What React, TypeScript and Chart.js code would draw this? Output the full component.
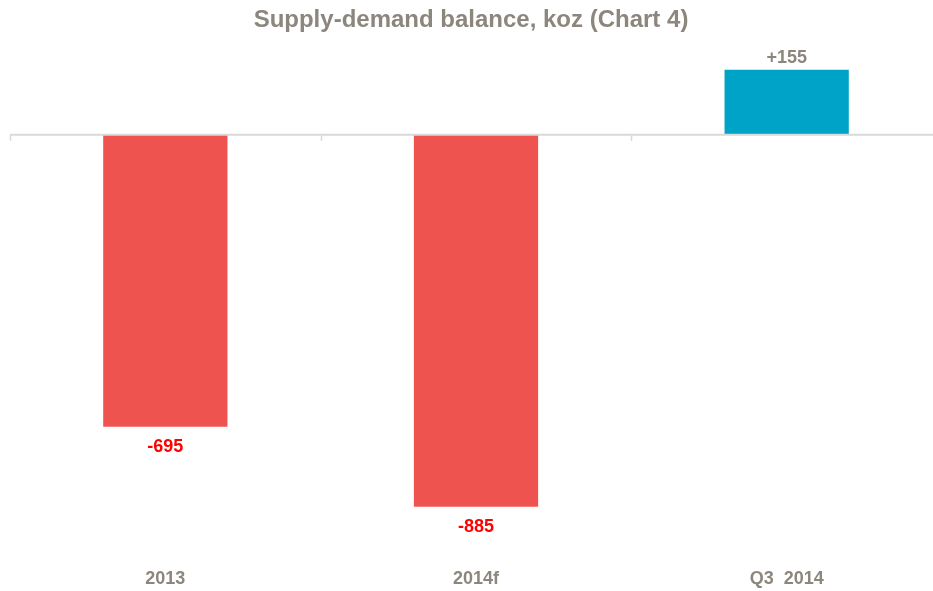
import React, { useEffect, useRef } from "react";
import { Chart, registerables } from "chart.js";

Chart.register(...registerables);

const categories = ["2013", "2014f", "Q3  2014"];
const balance = [-695, -885, 155];
const title = "Supply-demand balance, koz (Chart 4)";

const RED = "#EF534F";
const BLUE = "#00A3C8";
const GRAY = "#8C867C";
const LABEL_RED = "#FF0000";
const AXIS = "#D9D9D9";
const FONT = "'Liberation Sans', Arial, sans-serif";

const overlayPlugin = {
  id: "overlay",
  afterDatasetsDraw(chart: any) {
    const { ctx, chartArea, scales } = chart;
    const x = scales.x;
    const y = scales.y;
    const y0 = y.getPixelForValue(0);
    ctx.save();
    // zero line
    ctx.strokeStyle = AXIS;
    ctx.lineWidth = 2;
    ctx.beginPath();
    ctx.moveTo(chartArea.left, y0);
    ctx.lineTo(chartArea.right, y0);
    ctx.stroke();
    // category boundary ticks
    const half = (x.getPixelForValue(1) - x.getPixelForValue(0)) / 2;
    for (let i = 0; i <= categories.length; i++) {
      const px = Math.round(x.getPixelForValue(0) - half + i * 2 * half) + 0.5;
      ctx.lineWidth = 1.5;
      ctx.beginPath();
      ctx.moveTo(px, y0);
      ctx.lineTo(px, y0 + 6);
      ctx.stroke();
    }
    // data labels
    const meta = chart.getDatasetMeta(0);
    ctx.font = `bold 18px ${FONT}`;
    ctx.textAlign = "center";
    ctx.textBaseline = "middle";
    meta.data.forEach((bar: any, i: number) => {
      const v = balance[i];
      if (v >= 0) {
        ctx.fillStyle = GRAY;
        ctx.fillText("+" + v, bar.x, bar.y - 12);
      } else {
        ctx.fillStyle = LABEL_RED;
        ctx.fillText(String(v), bar.x, bar.y + 20);
      }
    });
    ctx.restore();
  },
};

export default function App() {
  const ref = useRef<HTMLCanvasElement>(null);
  useEffect(() => {
    if (!ref.current) return;
    const chart = new Chart(ref.current, {
      type: "bar",
      data: {
        labels: categories,
        datasets: [
          {
            data: balance,
            backgroundColor: balance.map((v) => (v < 0 ? RED : BLUE)),
            borderWidth: 0,
            barPercentage: 0.4,
            categoryPercentage: 1,
          },
        ],
      },
      options: {
        responsive: false,
        animation: false,
        devicePixelRatio: 1,
        layout: { padding: { left: 0, right: 0, top: 0, bottom: 0 } },
        plugins: {
          legend: { display: false },
          tooltip: { enabled: false },
          title: {
            display: true,
            text: title,
            color: GRAY,
            font: { family: FONT, size: 24, weight: "bold" },
            padding: { top: 6, bottom: 0 },
          },
        },
        scales: {
          x: {
            grid: { display: false, drawTicks: false },
            border: { display: false },
            ticks: {
              color: GRAY,
              font: { family: FONT, size: 18, weight: "bold" },
              padding: 13,
              maxRotation: 0,
              autoSkip: false,
            },
            afterFit: (s: any) => {
              s.height = 36;
            },
          },
          y: {
            display: true,
            min: -1000,
            max: 238,
            grid: { display: false, drawTicks: false },
            border: { display: false },
            ticks: { display: false },
            afterFit: (s: any) => {
              s.width = 10;
            },
          },
        },
      },
      plugins: [overlayPlugin],
    });
    return () => chart.destroy();
  }, []);
  return (
    <div
      style={{
        position: "absolute",
        left: 0,
        top: 0,
        width: 933,
        height: 591,
        overflow: "hidden",
        background: "#fff",
      }}
    >
      <canvas ref={ref} width={942} height={591} style={{ display: "block" }} />
    </div>
  );
}
